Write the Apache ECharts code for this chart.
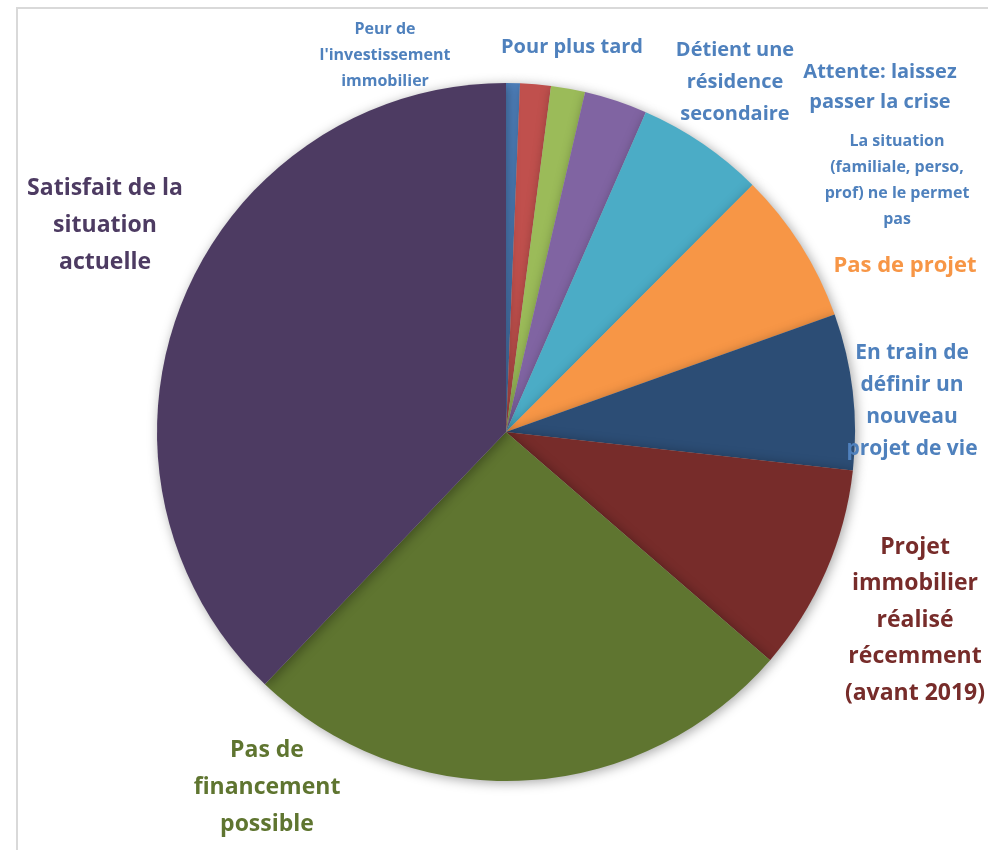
<!DOCTYPE html>
<html><head><meta charset="utf-8">
<script src="https://cdn.jsdelivr.net/npm/echarts@6/dist/echarts.min.js"></script>
<style>html,body{margin:0;padding:0;background:#fff}#c{width:988px;height:850px}</style>
</head><body><div id="c"></div>
<script>
const categories = [
  "Peur de\nl'investissement\nimmobilier",
  "Pour plus tard",
  "Détient une\nrésidence\nsecondaire",
  "Attente: laissez\npasser la crise",
  "La situation\n(familiale, perso,\nprof) ne le permet\npas",
  "Pas de projet",
  "En train de\ndéfinir un\nnouveau\nprojet de vie",
  "Projet\nimmobilier\nréalisé\nrécemment\n(avant 2019)",
  "Pas de\nfinancement\npossible",
  "Satisfait de la\nsituation\nactuelle"
];
const values = [0.64, 1.42, 1.58, 2.92, 5.92, 7.06, 7.22, 9.58, 25.8, 37.86];

const sliceColors = ['#4F81BD','#C0504D','#9BBB59','#8064A2','#4BACC6','#F79646','#2C4D75','#772C2A','#5F7530','#4D3B62'];
const labelColors = ['#4F81BD','#4F81BD','#4F81BD','#4F81BD','#4F81BD','#F79646','#4F81BD','#772C2A','#5F7530','#4D3B62'];
const labelSizes = [16, 20, 20, 20, 16, 22, 21, 23, 23, 23];
const labelLH = [26, 32, 32, 30, 26, 32, 32, 36.5, 37, 37];
const labelPos = [[385,55],[572,47],[735,82],[880,87],[897,180],[905,266],[912,401],[915,620],[267,787],[105,225]];

const chart = echarts.init(document.getElementById('c'));
chart.setOption({
  backgroundColor: '#fff',
  animation: false,
  graphic: [{
    type: 'rect', shape: {x: 17, y: 8, width: 1200, height: 1200},
    style: {fill: 'none', stroke: '#D9D9D9', lineWidth: 2}, silent: true
  }],
  series: [{
    type: 'pie',
    center: [506, 432],
    radius: 349,
    startAngle: 90,
    clockwise: true,
    data: categories.map((n, i) => ({
      name: n, value: values[i],
      itemStyle: {color: sliceColors[i]},
      label: {color: labelColors[i], fontSize: labelSizes[i], lineHeight: labelLH[i]}
    })),
    itemStyle: {borderWidth: 0, shadowBlur: 12, shadowColor: 'rgba(0,0,0,0.35)', shadowOffsetX: 2, shadowOffsetY: 2},
    label: {
      show: true, position: 'outside', formatter: '{b}', overflow: 'none',
      fontFamily: 'Open Sans', fontWeight: 'bold', align: 'center'
    },
    labelLine: {show: false},
    labelLayout: function (p) {
      const pos = labelPos[p.dataIndex];
      return {x: pos[0], y: pos[1], align: 'center', verticalAlign: 'middle', hideOverlap: false};
    }
  }]
});
</script></body></html>
